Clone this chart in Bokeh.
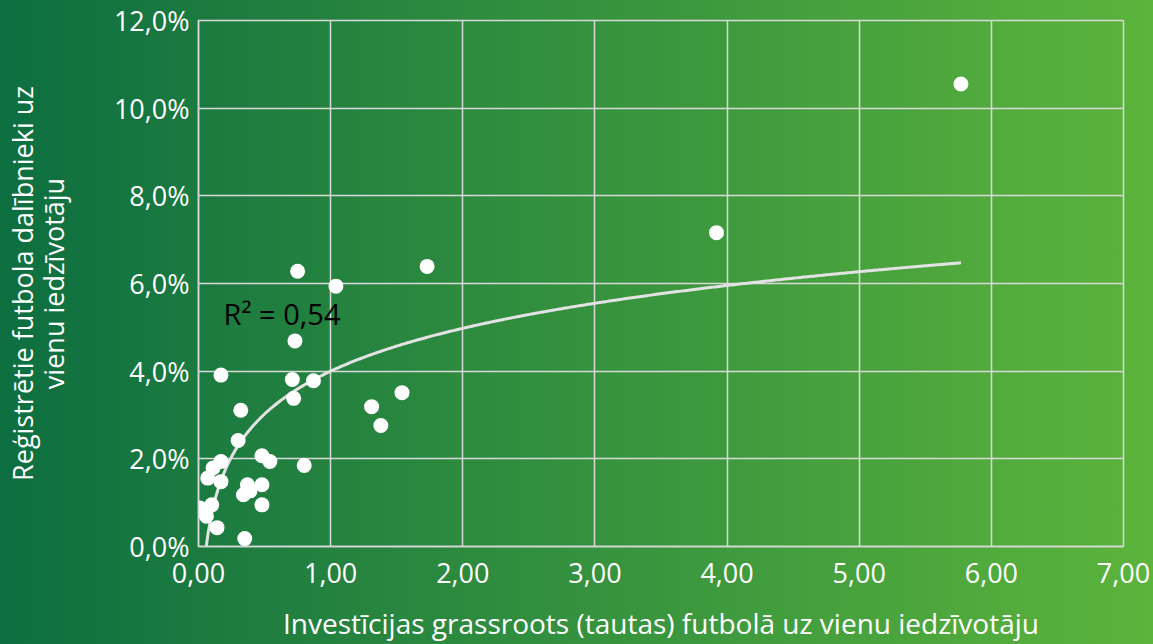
import numpy as np
from bokeh.plotting import figure
from bokeh.models import FixedTicker, Label, ColumnDataSource, Range1d
from bokeh.embed import file_html
from bokeh.resources import INLINE

# ---- data ----
investment = [5.77, 3.92, 1.73, 0.75, 1.04, 0.73, 0.17, 0.71, 0.87, 0.72,
              1.54, 1.31, 1.38, 0.32, 0.30, 0.80, 0.48, 0.54, 0.17, 0.11,
              0.07, 0.17, 0.37, 0.48, 0.34, 0.39, 0.48, 0.01, 0.10, 0.06,
              0.14, 0.35]
players_pct = [10.55, 7.16, 6.39, 6.28, 5.94, 4.69, 3.91, 3.81, 3.78, 3.38,
               3.51, 3.19, 2.76, 3.11, 2.42, 1.85, 2.07, 1.94, 1.94, 1.79,
               1.56, 1.48, 1.41, 1.41, 1.18, 1.27, 0.95, 0.88, 0.95, 0.69,
               0.43, 0.18]

x_ticks = [0, 1, 2, 3, 4, 5, 6, 7]
x_tick_labels = ["0,00", "1,00", "2,00", "3,00", "4,00", "5,00", "6,00", "7,00"]
y_ticks = [0, 2, 4, 6, 8, 10, 12]
y_tick_labels = ["0,0%", "2,0%", "4,0%", "6,0%", "8,0%", "10,0%", "12,0%"]

# logarithmic trendline y = a*ln(x) + b (coefficients)
trend_slope = 1.41
trend_intercept = 4.0
r2_text = "R\u00b2 = 0,54"

x_title = "Investīcijas grassroots (tautas) futbolā uz vienu iedzīvotāju"
y_title = "Reģistrētie futbola dalībnieki uz\nvienu iedzīvotāju"

FONT = "Open Sans"
GRID = "#d9d9d9"

p = figure(width=1153, height=644, output_backend="svg", toolbar_location=None,
           x_range=Range1d(0, 7), y_range=Range1d(0, 12),
           min_border_left=197, min_border_right=30,
           min_border_top=20, min_border_bottom=97)
p.background_fill_color = None
p.border_fill_color = None
p.outline_line_color = GRID
p.outline_line_width = 1.5

# grid
p.xgrid.ticker = FixedTicker(ticks=x_ticks)
p.ygrid.ticker = FixedTicker(ticks=y_ticks)
for g in (p.xgrid, p.ygrid):
    g.grid_line_color = GRID
    g.grid_line_width = 1.5

# axes
p.xaxis.ticker = FixedTicker(ticks=x_ticks)
p.yaxis.ticker = FixedTicker(ticks=y_ticks)
p.xaxis.major_label_overrides = {t: l for t, l in zip(x_ticks, x_tick_labels)}
p.yaxis.major_label_overrides = {t: l for t, l in zip(y_ticks, y_tick_labels)}
for ax in (p.xaxis, p.yaxis):
    ax.axis_line_color = GRID
    ax.axis_line_width = 1.5
    ax.major_tick_line_color = None
    ax.minor_tick_line_color = None
    ax.major_tick_out = 0
    ax.major_tick_in = 0
    ax.major_label_text_font = FONT
    ax.major_label_text_font_size = "27px"
    ax.major_label_text_color = "white"
    ax.axis_label_text_font = FONT
    ax.axis_label_text_font_style = "normal"
    ax.axis_label_text_color = "white"
p.xaxis.major_label_standoff = 16
p.yaxis.major_label_standoff = 9

# y axis title (two lines)
p.yaxis.axis_label = y_title
p.yaxis.axis_label_text_font_size = "27px"
p.yaxis.axis_label_text_line_height = 0.84
p.yaxis.axis_label_standoff = 39

# x axis title
p.xaxis.axis_label = x_title
p.xaxis.axis_label_text_font_size = "28px"
p.xaxis.axis_label_standoff = 18

# trendline
x_start = float(np.exp(-trend_intercept / trend_slope))
x_fit = np.linspace(x_start, max(investment), 400)
y_fit = trend_slope * np.log(x_fit) + trend_intercept
p.line(x_fit, y_fit, line_color="#e3e3e3", line_width=3)

# points
src = ColumnDataSource(data=dict(x=investment, y=players_pct))
p.scatter("x", "y", source=src, size=15, fill_color="white", line_color=None)

# R^2 label
p.add_layout(Label(x=0.19, y=5.31, text=r2_text, text_font=FONT,
                   text_font_size="29px", text_color="black",
                   text_baseline="middle", text_align="left"))

html = file_html(p, INLINE)
css = ("<style>html,body{background:linear-gradient(90deg,#0d6e40 0%,"
       "#5cb43c 100%) fixed;}</style></head>")
html = html.replace("</head>", css, 1)
open("out.html", "w").write(html)
